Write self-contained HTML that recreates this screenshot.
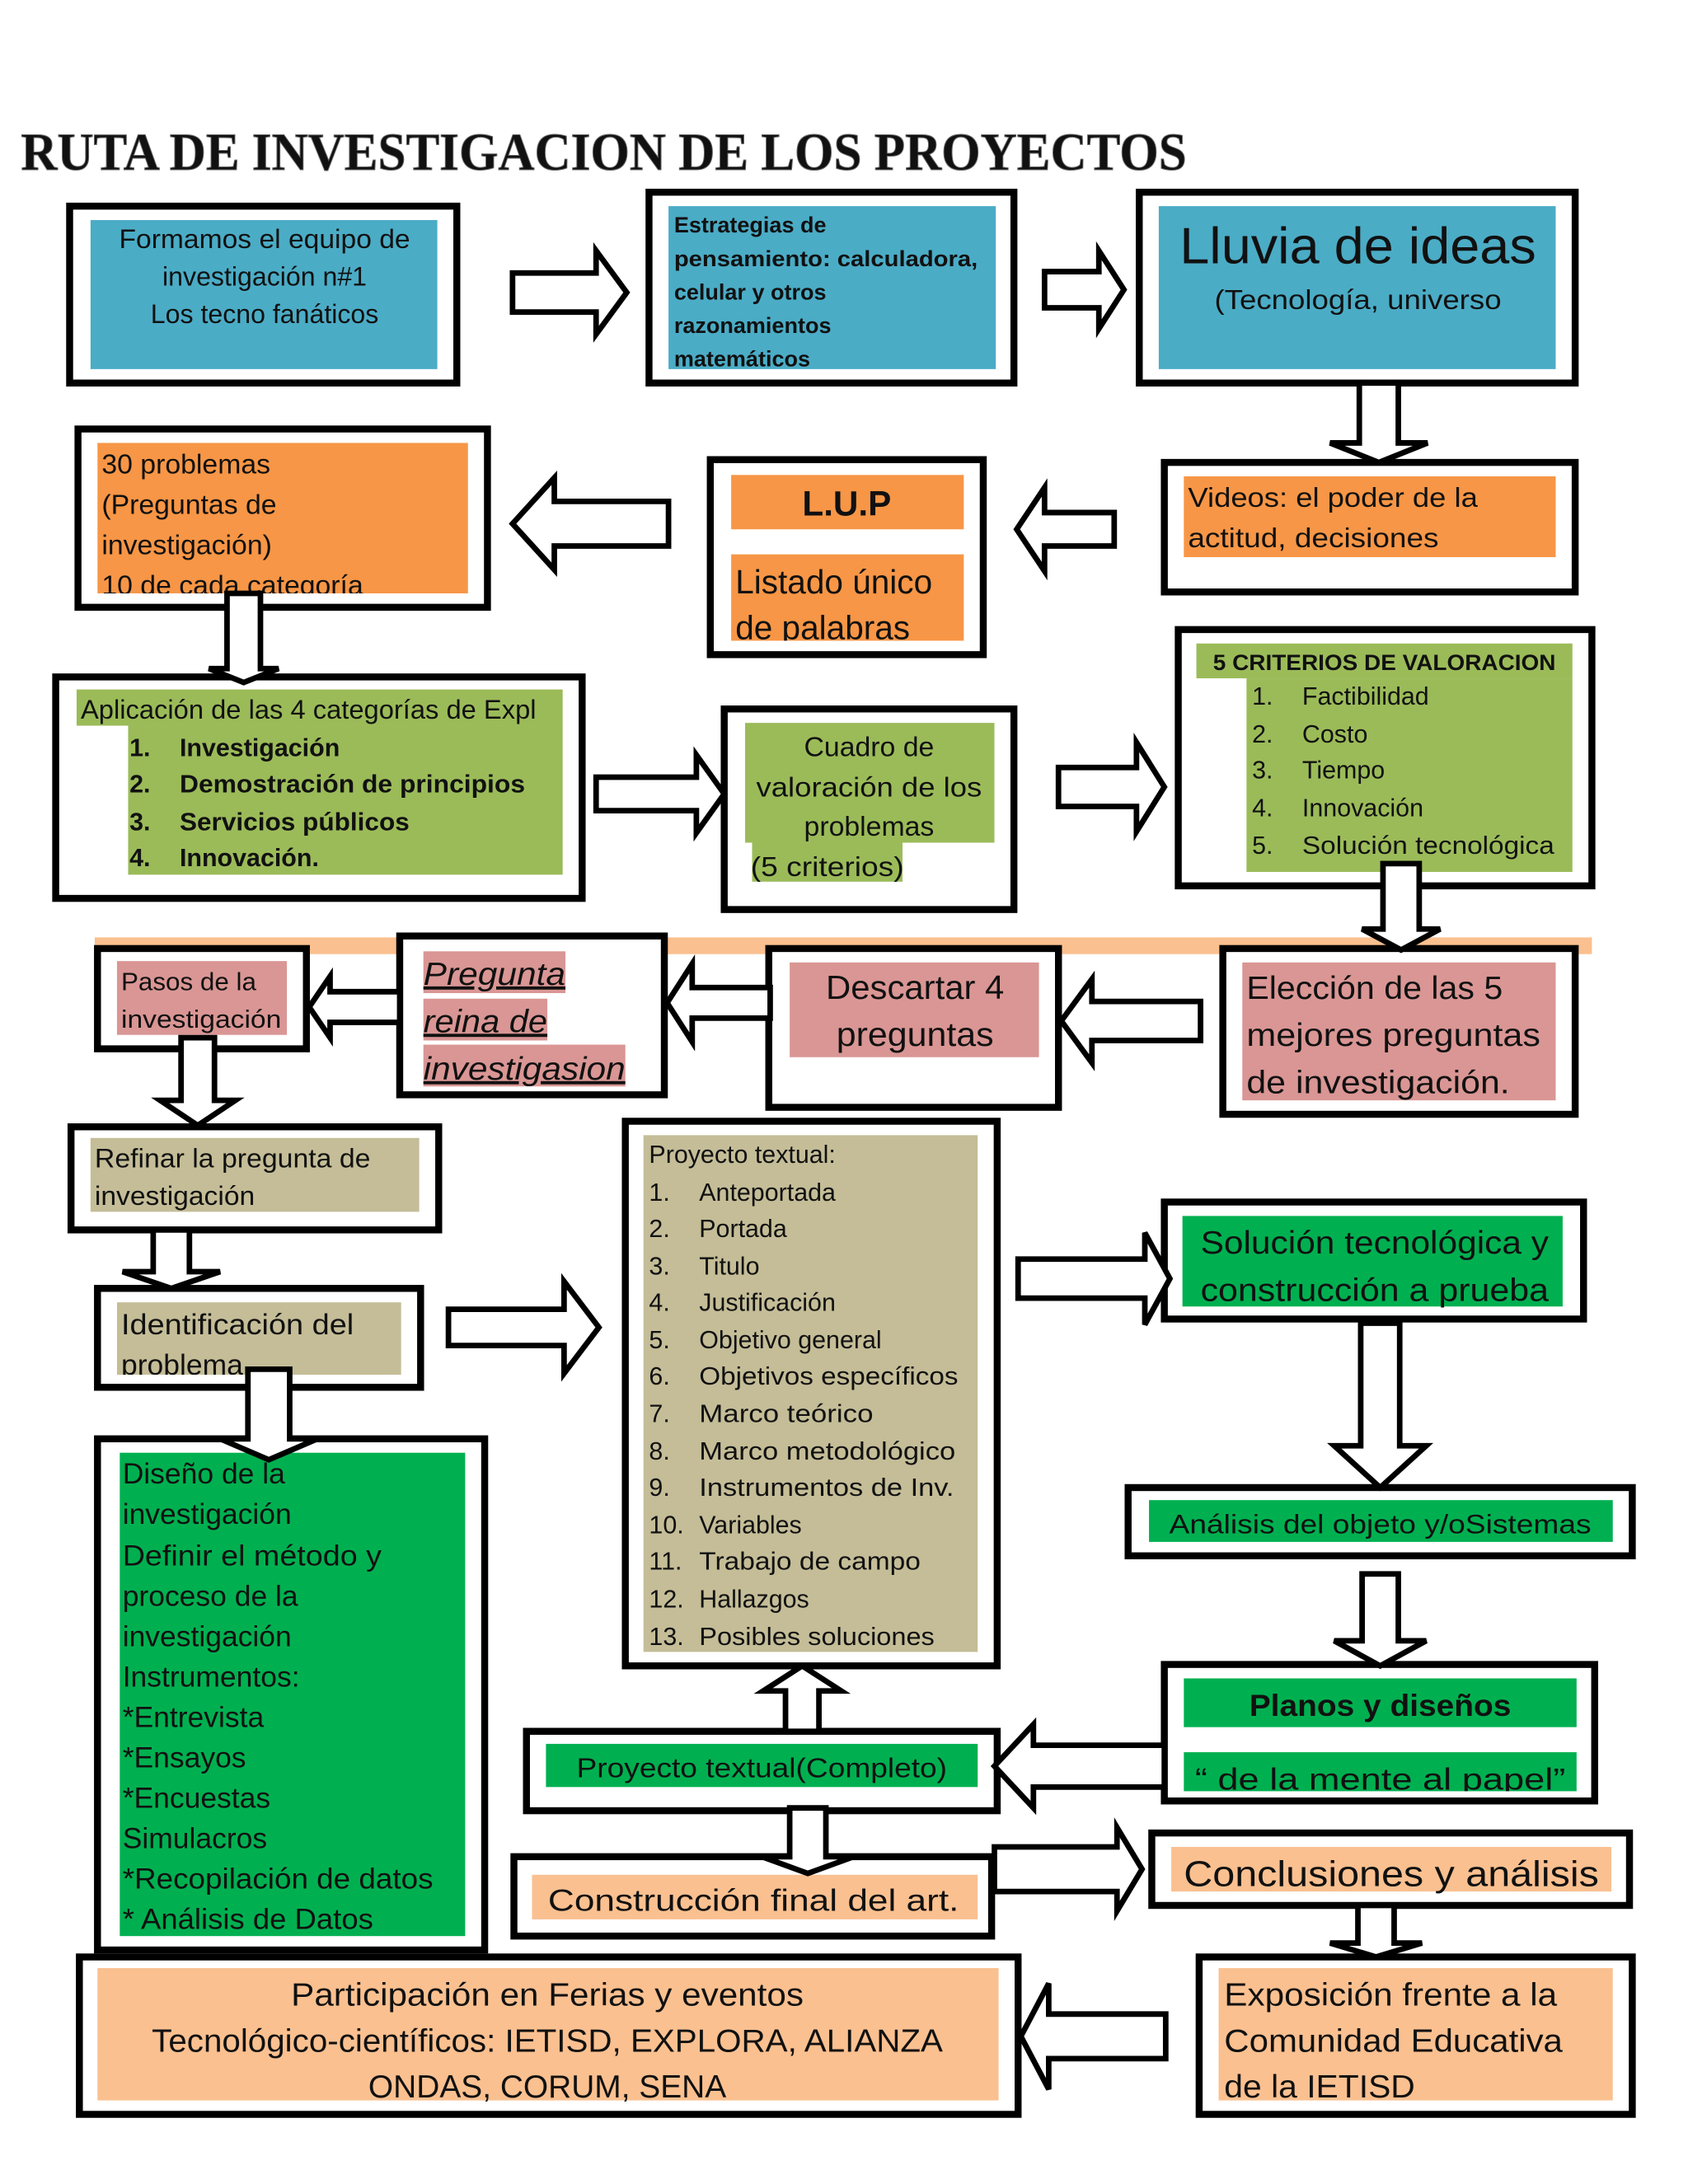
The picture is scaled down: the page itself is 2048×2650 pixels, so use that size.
<!DOCTYPE html>
<html><head><meta charset="utf-8"><style>
html,body{margin:0;padding:0;background:#fff;}
svg{display:block;}
text{font-family:"Liberation Sans",sans-serif;fill:#111;}
.ar{fill:#fff;stroke:#000;stroke-width:4;stroke-linejoin:miter;}
.ob{fill:#fff;stroke:#000;stroke-width:5;}
</style></head><body>
<svg width="2048" height="2650" viewBox="0 0 1212 1568" preserveAspectRatio="none" xmlns="http://www.w3.org/2000/svg">
<defs>
<clipPath id="cD"><rect x="70" y="318" width="266" height="108"/></clipPath>
<clipPath id="cE"><rect x="525" y="398" width="167" height="62"/></clipPath>
<clipPath id="cK"><rect x="290" y="675" width="185" height="106"/></clipPath>
<clipPath id="cO"><rect x="84" y="935" width="204" height="52"/></clipPath>
<clipPath id="cT"><rect x="850" y="1258" width="282" height="28"/></clipPath>
<clipPath id="cX"><rect x="70" y="1413" width="647" height="96"/></clipPath>
<clipPath id="cY"><rect x="875" y="1413" width="283" height="96"/></clipPath>
</defs>

<text x="15" y="122" font-weight="bold" font-size="38" textLength="837" lengthAdjust="spacingAndGlyphs" style="font-family:'Liberation Serif',serif;fill:#111;stroke:#666;stroke-width:0.6">RUTA  DE  INVESTIGACION DE LOS PROYECTOS</text>

<rect x="68" y="673" width="1075" height="12" fill="#FAC08F"/>

<rect class="ob" x="50" y="148" width="278" height="127"/>
<rect x="65" y="158" width="249" height="107" fill="#4BACC6"/>
<g font-size="19" text-anchor="middle">
<text x="190" y="178" textLength="209" lengthAdjust="spacingAndGlyphs">Formamos el equipo de</text>
<text x="190" y="205">investigación n#1</text>
<text x="190" y="232">Los tecno fanáticos</text></g>

<rect class="ob" x="466" y="138" width="262" height="137"/>
<rect x="480" y="148" width="235" height="117" fill="#4BACC6"/>
<g font-size="16" font-weight="bold">
<text x="484" y="167">Estrategias de</text>
<text x="484" y="191" textLength="218" lengthAdjust="spacingAndGlyphs">pensamiento: calculadora,</text>
<text x="484" y="215">celular y otros</text>
<text x="484" y="239">razonamientos</text>
<text x="484" y="263">matemáticos</text></g>

<rect class="ob" x="818" y="138" width="313" height="137"/>
<rect x="832" y="148" width="285" height="117" fill="#4BACC6"/>
<text x="975" y="189" font-size="37" text-anchor="middle" textLength="256" lengthAdjust="spacingAndGlyphs">Lluvia de ideas</text>
<text x="975" y="222" font-size="20" text-anchor="middle" textLength="206" lengthAdjust="spacingAndGlyphs">(Tecnología, universo</text>

<rect class="ob" x="56" y="308" width="294" height="128"/>
<rect x="70" y="318" width="266" height="108" fill="#F79646"/>
<g font-size="20" clip-path="url(#cD)">
<text x="73" y="340">30  problemas</text>
<text x="73" y="369">(Preguntas de</text>
<text x="73" y="398">investigación)</text>
<text x="73" y="427">10 de cada categoría</text></g>

<rect class="ob" x="510" y="330" width="196" height="140"/>
<rect x="525" y="341" width="167" height="39" fill="#F79646"/>
<rect x="525" y="398" width="167" height="62" fill="#F79646"/>
<text x="608" y="370" font-size="25" font-weight="bold" text-anchor="middle">L.U.P</text>
<g font-size="24" clip-path="url(#cE)">
<text x="528" y="426">Listado único</text>
<text x="528" y="459">de palabras</text></g>

<rect class="ob" x="836" y="332" width="295" height="93"/>
<rect x="850" y="342" width="267" height="58" fill="#F79646"/>
<g font-size="20">
<text x="853" y="364" textLength="208" lengthAdjust="spacingAndGlyphs">Videos: el poder de la</text>
<text x="853" y="393" textLength="180" lengthAdjust="spacingAndGlyphs">actitud, decisiones</text></g>

<rect class="ob" x="40" y="486" width="378" height="159"/>
<rect x="55" y="495" width="349" height="26" fill="#9BBB59"/>
<rect x="92" y="521" width="312" height="107" fill="#9BBB59"/>
<text x="58" y="516" font-size="19" textLength="327" lengthAdjust="spacingAndGlyphs">Aplicación de las 4 categorías de Expl</text>
<g font-size="18" font-weight="bold">
<text x="93" y="543">1.</text><text x="129" y="543">Investigación</text>
<text x="93" y="569">2.</text><text x="129" y="569" textLength="248" lengthAdjust="spacingAndGlyphs">Demostración de principios</text>
<text x="93" y="596">3.</text><text x="129" y="596" textLength="165" lengthAdjust="spacingAndGlyphs">Servicios  públicos</text>
<text x="93" y="622">4.</text><text x="129" y="622">Innovación.</text></g>

<rect class="ob" x="520" y="509" width="208" height="144"/>
<rect x="535" y="519" width="179" height="86" fill="#9BBB59"/>
<rect x="540" y="605" width="108" height="28" fill="#9BBB59"/>
<g font-size="20" text-anchor="middle">
<text x="624" y="543">Cuadro de</text>
<text x="624" y="572" textLength="162" lengthAdjust="spacingAndGlyphs">valoración de los</text>
<text x="624" y="600">problemas</text></g>
<text x="539" y="629" font-size="20" textLength="110" lengthAdjust="spacingAndGlyphs">(5 criterios)</text>

<rect class="ob" x="846" y="452" width="297" height="184"/>
<rect x="859" y="462" width="270" height="25" fill="#9BBB59"/>
<rect x="895" y="487" width="234" height="139" fill="#9BBB59"/>
<text x="871" y="481" font-size="16" font-weight="bold" textLength="246" lengthAdjust="spacingAndGlyphs">5  CRITERIOS DE VALORACION</text>
<g font-size="18">
<text x="899" y="506">1.</text><text x="935" y="506">Factibilidad</text>
<text x="899" y="533">2.</text><text x="935" y="533">Costo</text>
<text x="899" y="559">3.</text><text x="935" y="559">Tiempo</text>
<text x="899" y="586">4.</text><text x="935" y="586">Innovación</text>
<text x="899" y="613">5.</text><text x="935" y="613" textLength="181" lengthAdjust="spacingAndGlyphs">Solución tecnológica</text></g>

<rect class="ob" x="70" y="681" width="150" height="72"/>
<rect x="84" y="690" width="122" height="53" fill="#D99694"/>
<g font-size="18"><text x="87" y="711" textLength="97" lengthAdjust="spacingAndGlyphs">Pasos de la</text><text x="87" y="738" textLength="115" lengthAdjust="spacingAndGlyphs">investigación</text></g>

<rect class="ob" x="287" y="672" width="190" height="114"/>
<rect x="304" y="683" width="102" height="30" fill="#D99694"/>
<rect x="304" y="717" width="89" height="30" fill="#D99694"/>
<rect x="304" y="750" width="145" height="30" fill="#D99694"/>
<g font-size="23" font-style="italic" clip-path="url(#cK)">
<text x="304" y="707" text-decoration="underline" textLength="102" lengthAdjust="spacingAndGlyphs">Pregunta</text>
<text x="304" y="741" text-decoration="underline" textLength="89" lengthAdjust="spacingAndGlyphs">reina de</text>
<text x="304" y="775" text-decoration="underline" textLength="145" lengthAdjust="spacingAndGlyphs">investigasion</text></g>

<rect class="ob" x="552" y="681" width="208" height="114"/>
<rect x="567" y="691" width="179" height="68" fill="#D99694"/>
<g font-size="24" text-anchor="middle"><text x="657" y="717" textLength="128" lengthAdjust="spacingAndGlyphs">Descartar 4</text><text x="657" y="751" textLength="113" lengthAdjust="spacingAndGlyphs">preguntas</text></g>

<rect class="ob" x="878" y="681" width="253" height="119"/>
<rect x="892" y="691" width="225" height="99" fill="#D99694"/>
<g font-size="23"><text x="895" y="717" textLength="184" lengthAdjust="spacingAndGlyphs">Elección de las 5</text>
<text x="895" y="751" textLength="211" lengthAdjust="spacingAndGlyphs">mejores preguntas</text>
<text x="895" y="785" textLength="189" lengthAdjust="spacingAndGlyphs">de investigación.</text></g>

<rect class="ob" x="51" y="809" width="264" height="74"/>
<rect x="65" y="817" width="236" height="53" fill="#C4BD97"/>
<g font-size="19"><text x="68" y="838" textLength="198" lengthAdjust="spacingAndGlyphs">Refinar la pregunta de</text><text x="68" y="865" textLength="115" lengthAdjust="spacingAndGlyphs">investigación</text></g>

<rect class="ob" x="70" y="925" width="232" height="71"/>
<rect x="84" y="935" width="204" height="52" fill="#C4BD97"/>
<g font-size="21" clip-path="url(#cO)"><text x="87" y="958" textLength="167" lengthAdjust="spacingAndGlyphs">Identificación del</text><text x="87" y="987">problema</text></g>

<rect class="ob" x="70" y="1033" width="278" height="367"/>
<rect x="86" y="1043" width="248" height="347" fill="#00B050"/>
<g font-size="21">
<text x="88" y="1065">Diseño de la</text>
<text x="88" y="1094">investigación</text>
<text x="88" y="1124" textLength="186" lengthAdjust="spacingAndGlyphs">Definir el método y</text>
<text x="88" y="1153">proceso de la</text>
<text x="88" y="1182">investigación</text>
<text x="88" y="1211">Instrumentos:</text>
<text x="88" y="1240">*Entrevista</text>
<text x="88" y="1269">*Ensayos</text>
<text x="88" y="1298">*Encuestas</text>
<text x="88" y="1327">Simulacros</text>
<text x="88" y="1356" textLength="223" lengthAdjust="spacingAndGlyphs">*Recopilación de datos</text>
<text x="88" y="1385" textLength="180" lengthAdjust="spacingAndGlyphs">* Análisis de Datos</text></g>

<rect class="ob" x="449" y="805" width="267" height="391"/>
<rect x="462" y="815" width="240" height="371" fill="#C4BD97"/>
<g font-size="18">
<text x="466" y="835">Proyecto textual:</text>
<text x="466" y="862">1.</text><text x="502" y="862">Anteportada</text>
<text x="466" y="888">2.</text><text x="502" y="888">Portada</text>
<text x="466" y="915">3.</text><text x="502" y="915">Titulo</text>
<text x="466" y="941">4.</text><text x="502" y="941">Justificación</text>
<text x="466" y="968">5.</text><text x="502" y="968">Objetivo general</text>
<text x="466" y="994">6.</text><text x="502" y="994" textLength="186" lengthAdjust="spacingAndGlyphs">Objetivos específicos</text>
<text x="466" y="1021">7.</text><text x="502" y="1021" textLength="125" lengthAdjust="spacingAndGlyphs">Marco teórico</text>
<text x="466" y="1048">8.</text><text x="502" y="1048" textLength="184" lengthAdjust="spacingAndGlyphs">Marco metodológico</text>
<text x="466" y="1074">9.</text><text x="502" y="1074" textLength="183" lengthAdjust="spacingAndGlyphs">Instrumentos de Inv.</text>
<text x="466" y="1101">10.</text><text x="502" y="1101">Variables</text>
<text x="466" y="1127">11.</text><text x="502" y="1127" textLength="159" lengthAdjust="spacingAndGlyphs">Trabajo de campo</text>
<text x="466" y="1154">12.</text><text x="502" y="1154">Hallazgos</text>
<text x="466" y="1181">13.</text><text x="502" y="1181" textLength="169" lengthAdjust="spacingAndGlyphs">Posibles soluciones</text></g>

<rect class="ob" x="836" y="863" width="301" height="84"/>
<rect x="849" y="873" width="273" height="65" fill="#00B050"/>
<g font-size="23"><text x="862" y="900" textLength="250" lengthAdjust="spacingAndGlyphs">Solución tecnológica y</text>
<text x="862" y="934" textLength="250" lengthAdjust="spacingAndGlyphs">construcción a prueba</text></g>

<rect class="ob" x="810" y="1068" width="362" height="49"/>
<rect x="825" y="1077" width="333" height="30" fill="#00B050"/>
<text x="991" y="1101" font-size="19" text-anchor="middle" textLength="303" lengthAdjust="spacingAndGlyphs">Análisis  del objeto y/oSistemas</text>

<rect class="ob" x="836" y="1195" width="309" height="98"/>
<rect x="850" y="1205" width="282" height="35" fill="#00B050"/>
<rect x="850" y="1258" width="282" height="28" fill="#00B050"/>
<text x="991" y="1232" font-size="22" font-weight="bold" text-anchor="middle" textLength="188" lengthAdjust="spacingAndGlyphs">Planos y diseños</text>
<text x="991" y="1285" font-size="22" text-anchor="middle" clip-path="url(#cT)" textLength="266" lengthAdjust="spacingAndGlyphs">“ de la mente al papel”</text>

<rect class="ob" x="378" y="1243" width="338" height="57"/>
<rect x="392" y="1252" width="310" height="31" fill="#00B050"/>
<text x="547" y="1276" font-size="20" text-anchor="middle" textLength="266" lengthAdjust="spacingAndGlyphs">Proyecto textual(Completo)</text>

<rect class="ob" x="369" y="1333" width="343" height="57"/>
<rect x="382" y="1346" width="320" height="32" fill="#FAC090"/>
<text x="541" y="1372" font-size="22" text-anchor="middle" textLength="295" lengthAdjust="spacingAndGlyphs">Construcción  final del art.</text>

<rect class="ob" x="827" y="1316" width="343" height="52"/>
<rect x="841" y="1326" width="316" height="32" fill="#FAC090"/>
<text x="999" y="1354" font-size="26" text-anchor="middle" textLength="298" lengthAdjust="spacingAndGlyphs">Conclusiones  y análisis</text>

<rect class="ob" x="57" y="1405" width="674" height="113"/>
<rect x="70" y="1413" width="647" height="95" fill="#FAC090"/>
<g font-size="23" text-anchor="middle" clip-path="url(#cX)">
<text x="393" y="1440" textLength="368" lengthAdjust="spacingAndGlyphs">Participación en Ferias y eventos</text>
<text x="393" y="1473" textLength="568" lengthAdjust="spacingAndGlyphs">Tecnológico-científicos: IETISD, EXPLORA, ALIANZA</text>
<text x="393" y="1506" textLength="257" lengthAdjust="spacingAndGlyphs">ONDAS, CORUM, SENA</text></g>

<rect class="ob" x="861" y="1405" width="311" height="113"/>
<rect x="875" y="1413" width="283" height="95" fill="#FAC090"/>
<g font-size="23" clip-path="url(#cY)">
<text x="879" y="1440" textLength="239" lengthAdjust="spacingAndGlyphs">Exposición frente a la</text>
<text x="879" y="1473" textLength="243" lengthAdjust="spacingAndGlyphs">Comunidad Educativa</text>
<text x="879" y="1506" textLength="137" lengthAdjust="spacingAndGlyphs">de la  IETISD</text></g>

<polygon class="ar" points="368,196 428,196 428,180 450,210 428,240 428,224 368,224"/>
<polygon class="ar" points="750,195 789,195 789,180 807,208 789,236 789,221 750,221"/>
<polygon class="ar" points="428,558 500,558 500,542 520,570 500,598 500,582 428,582"/>
<polygon class="ar" points="760,551 816,551 816,533 836,565 816,597 816,579 760,579"/>
<polygon class="ar" points="322,940 405,940 405,920 430,953 405,986 405,966 322,966"/>
<polygon class="ar" points="731,904 822,904 822,885 840,918 822,951 822,932 731,932"/>
<polygon class="ar" points="714,1326 802,1326 802,1312 820,1342 802,1372 802,1358 714,1358"/>

<polygon class="ar" points="800,368 750,368 750,350 730,380 750,410 750,392 800,392"/>
<polygon class="ar" points="480,360 398,360 398,343 368,376 398,409 398,392 480,392"/>
<polygon class="ar" points="862,719 784,719 784,703 762,733 784,763 784,747 862,747"/>
<polygon class="ar" points="553,709 497,709 497,692 479,720 497,748 497,731 553,731"/>
<polygon class="ar" points="287,712 237,712 237,701 222,723 237,745 237,734 287,734"/>
<polygon class="ar" points="836,1253 742,1253 742,1238 714,1268 742,1298 742,1283 836,1283"/>
<polygon class="ar" points="837,1446 753,1446 753,1424 733,1462 753,1500 753,1478 837,1478"/>

<polygon class="ar" points="976,275 1004,275 1004,318 1025,318 990,332 955,318 976,318"/>
<polygon class="ar" points="163,426 187,426 187,480 200,480 175,490 150,480 163,480"/>
<polygon class="ar" points="993,620 1019,620 1019,667 1034,667 1006,682 978,667 993,667"/>
<polygon class="ar" points="130,745 154,745 154,790 169,790 142,808 115,790 130,790"/>
<polygon class="ar" points="110,883 136,883 136,913 158,913 123,925 88,913 110,913"/>
<polygon class="ar" points="178,983 208,983 208,1033 228,1033 193,1048 158,1033 178,1033"/>
<polygon class="ar" points="977,950 1005,950 1005,1038 1024,1038 991,1068 958,1038 977,1038"/>
<polygon class="ar" points="978,1130 1004,1130 1004,1178 1024,1178 991,1196 958,1178 978,1178"/>
<polygon class="ar" points="567,1298 593,1298 593,1333 613,1333 580,1345 547,1333 567,1333"/>
<polygon class="ar" points="975,1368 1001,1368 1001,1395 1021,1395 988,1405 955,1395 975,1395"/>
<polygon class="ar" points="564,1243 588,1243 588,1214 604,1214 576,1196 548,1214 564,1214"/>
</svg>
</body></html>
